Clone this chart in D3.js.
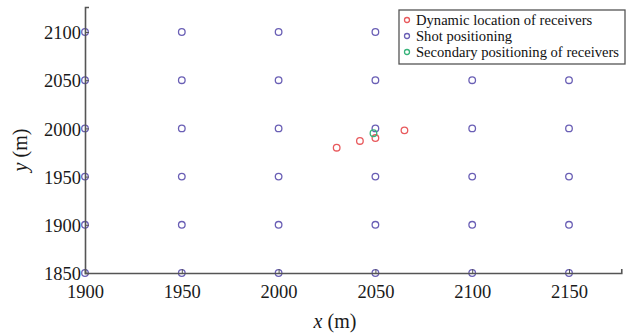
<!DOCTYPE html>
<html>
<head>
<meta charset="utf-8">
<script src="https://cdn.jsdelivr.net/npm/d3@7"></script>
<style>
  body { margin: 0; background: #fff; }
  text { font-family: "Liberation Serif", "Times New Roman", serif; }
</style>
</head>
<body>
<div class="container"></div>
<script>
// shot grid
const shotX = [1900, 1950, 2000, 2050, 2100, 2150];
const shotY = [1850, 1900, 1950, 2000, 2050, 2100];
// receivers
const dynX = [2030, 2042, 2050, 2065];
const dynY = [1980, 1987, 1990, 1998];
const secX = [2049];
const secY = [1995];
const xTicks = [1900, 1950, 2000, 2050, 2100, 2150];
const yTicks = [1850, 1900, 1950, 2000, 2050, 2100];
const legendNames = ['Dynamic location of receivers', 'Shot positioning', 'Secondary positioning of receivers'];
const colors = ['#e8595c', '#6a5fb5', '#37b37a'];

const width = 626, height = 333;
const margin = {left: 85, top: 7, right: 4, bottom: 60};

const svg = d3.select('.container').append('svg')
    .attr('width', width)
    .attr('height', height);

const x = d3.scaleLinear().domain([1900, 2177]).range([margin.left, margin.left + 277 * 1.936]);
const y = d3.scaleLinear().domain([1850, 2126]).range([height - margin.bottom, height - margin.bottom - 276 * 0.964]);

// points
const shots = [];
shotX.forEach(sx => shotY.forEach(sy => shots.push({x: sx, y: sy})));

function drawPts(data, color) {
    svg.append('g').selectAll('circle')
        .data(data)
        .enter().append('circle')
        .attr('cx', d => x(d.x))
        .attr('cy', d => y(d.y))
        .attr('r', 3.3)
        .attr('fill', 'none')
        .attr('stroke', color)
        .attr('stroke-width', 1.3);
}
drawPts(shots, colors[1]);
drawPts(dynX.map((v, i) => ({x: v, y: dynY[i]})), colors[0]);
drawPts(secX.map((v, i) => ({x: v, y: secY[i]})), colors[2]);

// axes
const xAxis = svg.append('g')
    .attr('transform', `translate(0,${y(1850)})`)
    .call(d3.axisBottom(x).tickValues(xTicks).tickSize(-4).tickPadding(11).tickFormat(d3.format('d')));
const yAxis = svg.append('g')
    .attr('transform', `translate(${x(1900)},0)`)
    .call(d3.axisLeft(y).tickValues(yTicks).tickSize(-4).tickPadding(4).tickFormat(d3.format('d')));

[xAxis, yAxis].forEach(a => {
    a.select('.domain').attr('stroke', '#555').attr('stroke-width', 1.6);
    a.selectAll('.tick line').attr('stroke', '#555').attr('stroke-width', 1);
    a.selectAll('.tick text').attr('font-size', 18.5).attr('fill', '#1a1a1a')
        .style('font-family', '"Liberation Serif", serif');
});
xAxis.selectAll('.tick text').attr('dy', '0.75em');
yAxis.selectAll('.tick text').attr('dy', '0.36em');

// axis titles
const xt = svg.append('text')
    .attr('x', 335).attr('y', 328)
    .attr('text-anchor', 'middle')
    .attr('font-size', 20).attr('fill', '#1a1a1a');
xt.append('tspan').attr('font-style', 'italic').text('x');
xt.append('tspan').text(' (m)');

const yt = svg.append('text')
    .attr('transform', 'translate(27,150) rotate(-90)')
    .attr('text-anchor', 'middle')
    .attr('font-size', 20).attr('fill', '#1a1a1a');
yt.append('tspan').attr('font-style', 'italic').text('y');
yt.append('tspan').text(' (m)');

// legend
const lg = svg.append('g').attr('transform', 'translate(399,10)');
lg.append('rect')
    .attr('width', 226).attr('height', 54)
    .attr('fill', '#fff').attr('stroke', '#555').attr('stroke-width', 1.3);
const item = lg.selectAll('g.item')
    .data(legendNames)
    .enter().append('g')
    .attr('class', 'item')
    .attr('transform', (d, i) => `translate(0,${10 + i * 16})`);
item.append('circle')
    .attr('cx', 8).attr('cy', 0).attr('r', 2.5)
    .attr('fill', 'none')
    .attr('stroke', (d, i) => colors[i])
    .attr('stroke-width', 1.3);
item.append('text')
    .attr('x', 17).attr('y', 0).attr('dy', '0.35em')
    .attr('font-size', 14.6).attr('fill', '#111')
    .text(d => d);
</script>
</body>
</html>
